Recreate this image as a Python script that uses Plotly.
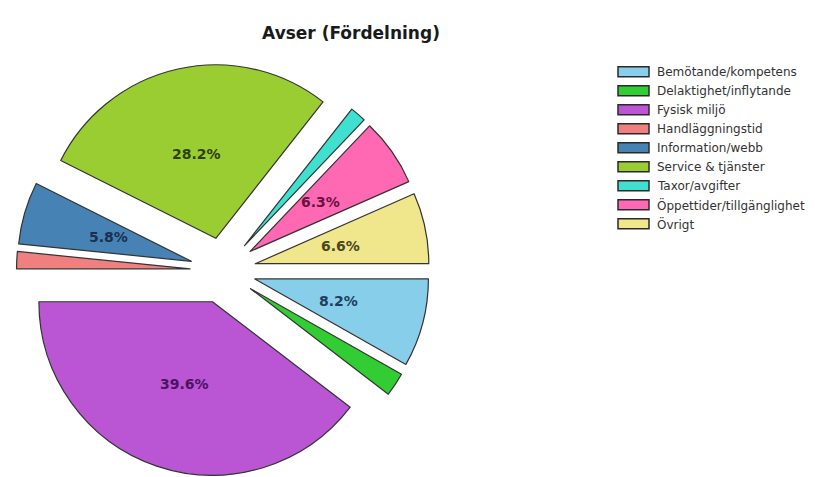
import math
import plotly.graph_objects as go

labels = ["Bemötande/kompetens", "Delaktighet/inflytande", "Fysisk miljö", "Handläggningstid",
          "Information/webb", "Service & tjänster", "Taxor/avgifter",
          "Öppettider/tillgänglighet", "Övrigt"]
values = [8.2, 2.2, 39.6, 1.6, 5.8, 28.2, 1.5, 6.3, 6.6]
show_text = [True, False, True, False, True, True, False, True, True]

colors = ["#87CEEB", "#32CD32", "#BA55D3", "#F08080", "#4682B4",
          "#9ACD32", "#40E0D0", "#FF69B4", "#F0E68C"]
text_colors = ["#1E3F5A", "#145214", "#4A1460", "#602020", "#1A3050",
               "#2E4000", "#105050", "#6A1040", "#4A4520"]

W, H = 815, 477
PULL = 0.19
DOM_X = (16, 430)   # px
DOM_Y = (64, 477)   # px from top

fig = go.Figure(go.Pie(
    labels=labels, values=values, sort=False, direction="clockwise", rotation=90,
    pull=[PULL] * len(values),
    marker=dict(colors=colors, line=dict(color="#333333", width=1.2)),
    textinfo="none",
    domain=dict(x=[DOM_X[0] / W, DOM_X[1] / W], y=[1 - DOM_Y[1] / H, 1 - DOM_Y[0] / H]),
    hoverinfo="label+percent",
    showlegend=False,
))

# percentage labels placed at half radius along each slice's mid-angle
R = min(DOM_X[1] - DOM_X[0], DOM_Y[1] - DOM_Y[0]) / (2 * (1 + PULL))
cx = (DOM_X[0] + DOM_X[1]) / 2
cy = (DOM_Y[0] + DOM_Y[1]) / 2
total = sum(values)
cum = 0.0
annotations = []
for lab, v, s, tc in zip(labels, values, show_text, text_colors):
    mid = -(cum + v / 2) / total * 2 * math.pi
    cum += v
    if not s:
        continue
    d = R * (PULL + 0.5)
    px = cx + d * math.cos(mid)
    py = cy - d * math.sin(mid)
    annotations.append(dict(
        x=px / W, y=1 - py / H, xref="paper", yref="paper", showarrow=False,
        text="%.1f%%" % (v / total * 100),
        font=dict(family="DejaVu Sans", size=14, color=tc, weight="bold"),
        xanchor="center", yanchor="middle"))

# legend drawn manually (wide rectangle swatches)
shapes = []
for i, (lab, col) in enumerate(zip(labels, colors)):
    yc = 71.7 + 19 * i
    shapes.append(dict(type="rect", xref="paper", yref="paper",
                       x0=618 / W, x1=649 / W, y0=1 - (yc + 5) / H, y1=1 - (yc - 5) / H,
                       fillcolor=col, line=dict(color="#2A2A2A", width=1.5)))
    annotations.append(dict(
        x=655 / W, y=1 - yc / H, xref="paper", yref="paper", showarrow=False,
        text=lab, xanchor="left", yanchor="middle",
        font=dict(family="DejaVu Sans", size=12, color="#333333")))

fig.update_layout(
    width=W, height=H,
    margin=dict(l=0, r=0, t=0, b=0),
    paper_bgcolor="white", plot_bgcolor="white",
    title=dict(text="<b>Avser (Fördelning)</b>", x=351 / W, xanchor="center",
               y=1 - 33 / H, yanchor="middle", yref="container",
               font=dict(family="DejaVu Sans", size=17, color="#1A1A1A")),
    annotations=annotations,
    shapes=shapes,
    showlegend=False,
)

fig.write_html("out.html")
